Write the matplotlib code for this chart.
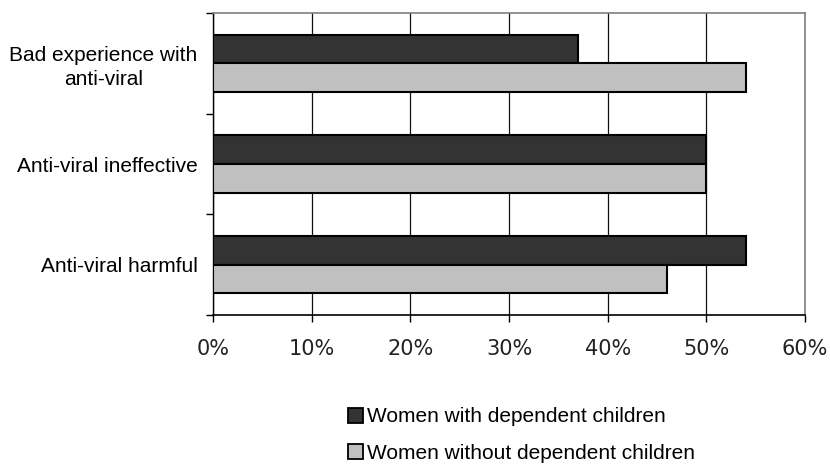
import matplotlib
matplotlib.use("Agg")
import matplotlib.pyplot as plt
import numpy as np
from matplotlib.patches import Patch

categories = ["Bad experience with\nanti-viral", "Anti-viral ineffective", "Anti-viral harmful"]
with_children = [37, 50, 54]
without_children = [54, 50, 46]
series_names = ["Women with dependent children", "Women without dependent children"]
xticks = [0, 10, 20, 30, 40, 50, 60]
xtick_labels = ["0%", "10%", "20%", "30%", "40%", "50%", "60%"]

plt.rcParams['font.family'] = ['Liberation Sans', 'DejaVu Sans']

fig = plt.figure(figsize=(8.3, 4.66), dpi=100)
ax = fig.add_axes([213/830, 1-315/466, (805-213)/830, (315-13)/466])

n = len(categories)
pos = np.arange(n)  # 0 top
bh = 0.286
dark = "#333333"
light = "#c0c0c0"
ax.barh(pos - bh/2, with_children, height=bh, color=dark, edgecolor="black", linewidth=1.5, zorder=3)
ax.barh(pos + bh/2, without_children, height=bh, color=light, edgecolor="black", linewidth=1.5, zorder=3)

ax.set_ylim(n - 0.5, -0.5)
ax.set_xlim(0, 60)
ax.set_xticks(xticks)
ax.set_xticklabels(xtick_labels, fontsize=15, family='DejaVu Sans', color='#222222')
ax.set_yticks(pos)
ax.set_yticklabels(categories, fontsize=15, linespacing=1.3, multialignment='center')
ax.set_yticks(np.arange(n + 1) - 0.5, minor=True)
ax.tick_params(axis='y', which='major', length=0, pad=11)
ax.tick_params(axis='y', which='minor', length=5, width=1, direction='out')
ax.tick_params(axis='x', length=5, width=1, direction='out', pad=12)

ax.grid(axis='x', color='#111111', linewidth=0.9, zorder=0)
ax.set_axisbelow(True)
ax.spines['left'].set_color('black')
ax.spines['bottom'].set_color('black')
ax.spines['left'].set_linewidth(1.0)
ax.spines['bottom'].set_linewidth(1.2)
ax.spines['top'].set_color('#808080')
ax.spines['right'].set_color('#808080')
ax.spines['top'].set_linewidth(1.2)
ax.spines['right'].set_linewidth(1.2)

handles = [Patch(facecolor=dark, edgecolor='black', linewidth=1.3),
           Patch(facecolor=light, edgecolor='black', linewidth=1.3)]
fig.legend(handles, series_names, loc='center left', bbox_to_anchor=(348/830, 1-435/466),
           frameon=False, fontsize=15, handlelength=0.72, handleheight=0.72,
           handletextpad=0.2, labelspacing=0.83, borderaxespad=0, borderpad=0)

fig.savefig("out.png", dpi=100)
